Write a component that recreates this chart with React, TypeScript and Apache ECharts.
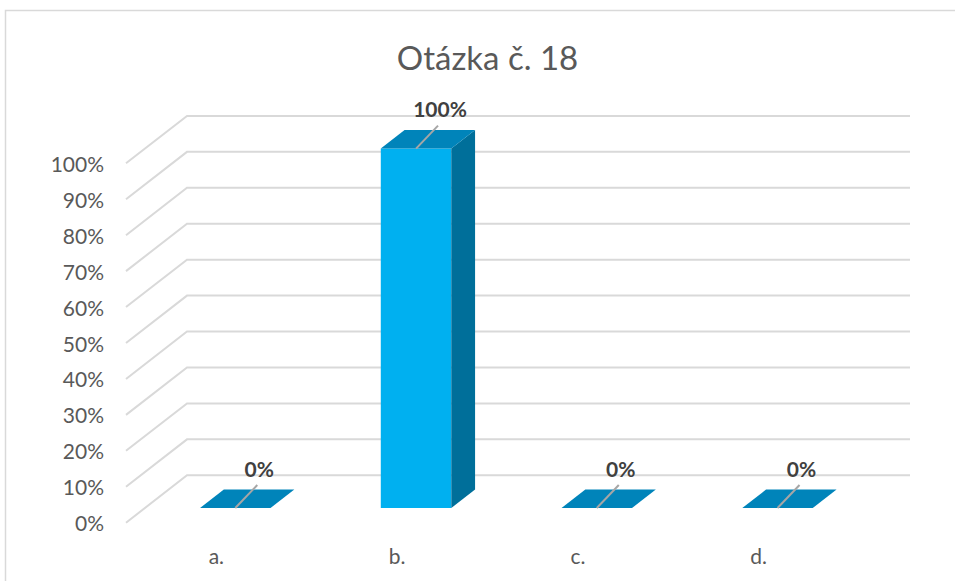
import React, { useEffect, useRef } from "react";
import * as echarts from "echarts";

const titleText = "Otázka č. 18";
const categories = ["a.", "b.", "c.", "d."];
const values = [0, 100, 0, 0];
const yTicks = [0, 10, 20, 30, 40, 50, 60, 70, 80, 90, 100];

const DX = 61;
const DY = -47.4;
const F0 = 0.31;
const F1 = 0.7;
const FONT = "Lato, 'Open Sans', sans-serif";

export default function App() {
  const ref = useRef<HTMLDivElement>(null);
  useEffect(() => {
    if (!ref.current) return;
    const chart = echarts.init(ref.current, null, { renderer: "svg" });
    const option: any = {
      animation: false,
      backgroundColor: "#ffffff",
      grid: { left: 126, right: 106, top: 163.3, bottom: 58.3 },
      graphic: [
        {
          type: "rect",
          shape: { x: 5.5, y: 10.5, width: 1200, height: 1200 },
          style: { fill: "none", stroke: "#D9D9D9", lineWidth: 1.5 },
          silent: true,
          z: -10,
        },
        {
          type: "text",
          x: 487.5,
          y: 57,
          style: {
            text: titleText,
            fill: "#595959",
            font: `33px ${FONT}`,
            textAlign: "center",
            textVerticalAlign: "middle",
          },
        },
      ],
      xAxis: {
        type: "category",
        data: categories,
        axisLine: { show: false },
        axisTick: { show: false },
        splitLine: { show: false },
        axisLabel: {
          color: "#595959",
          fontSize: 21,
          fontFamily: FONT,
          margin: 22,
        },
      },
      yAxis: {
        type: "value",
        min: 0,
        max: 100,
        interval: 10,
        axisLine: { show: false },
        axisTick: { show: false },
        splitLine: { show: false },
        axisLabel: {
          color: "#595959",
          fontSize: 21,
          fontFamily: FONT,
          margin: 22,
          formatter: "{value}%",
        },
      },
      series: [
        {
          type: "custom",
          clip: false,
          silent: true,
          z: 1,
          data: yTicks.map((v) => [0, v]),
          renderItem: (params: any, api: any) => {
            const v = api.value(1);
            const p = api.coord([0, v]);
            const cs = params.coordSys;
            const y = p[1];
            return {
              type: "polyline",
              shape: {
                points: [
                  [cs.x, y],
                  [cs.x + DX, y + DY],
                  [cs.x + cs.width + DX, y + DY],
                ],
              },
              style: { stroke: "#D9D9D9", lineWidth: 2, fill: "none" },
            };
          },
        },
        {
          type: "custom",
          clip: false,
          z: 2,
          data: values.map((v, i) => [i, v]),
          renderItem: (params: any, api: any) => {
            const i = api.value(0);
            const v = api.value(1);
            const c0 = api.coord([i, 0]);
            const c1 = api.coord([i, v]);
            const band = api.size([1, 0])[0];
            const w = band * 0.39;
            const xl = c0[0] - w / 2 + F0 * DX;
            const xr = xl + w;
            const yb = c0[1] + F0 * DY;
            const yt = c1[1] + F0 * DY;
            const ddx = (F1 - F0) * DX;
            const ddy = (F1 - F0) * DY;
            const cx = (xl + xr) / 2;
            const children: any[] = [];
            if (v > 0) {
              children.push({
                type: "polygon",
                shape: { points: [[xl, yb], [xr, yb], [xr, yt], [xl, yt]] },
                style: { fill: "#00B0F0" },
              });
              children.push({
                type: "polygon",
                shape: {
                  points: [
                    [xr, yb],
                    [xr + ddx, yb + ddy],
                    [xr + ddx, yt + ddy],
                    [xr, yt],
                  ],
                },
                style: { fill: "#006F9A" },
              });
            }
            children.push({
              type: "polygon",
              shape: {
                points: [
                  [xl, yt],
                  [xr, yt],
                  [xr + ddx, yt + ddy],
                  [xl + ddx, yt + ddy],
                ],
              },
              style: { fill: "#0084BA" },
            });
            children.push({
              type: "line",
              shape: { x1: cx, y1: yt, x2: cx + 22, y2: yt - 23 },
              style: { stroke: "#A6A6A6", lineWidth: 2 },
            });
            children.push({
              type: "text",
              x: cx + 24,
              y: yt - 40,
              style: {
                text: `${v}%`,
                fill: "#404040",
                font: `bold 21px ${FONT}`,
                textAlign: "center",
                textVerticalAlign: "middle",
              },
            });
            return { type: "group", children };
          },
        },
      ],
    };
    chart.setOption(option);
    return () => chart.dispose();
  }, []);
  return (
    <div
      ref={ref}
      style={{ position: "fixed", left: 0, top: 0, width: 955, height: 581 }}
    />
  );
}
